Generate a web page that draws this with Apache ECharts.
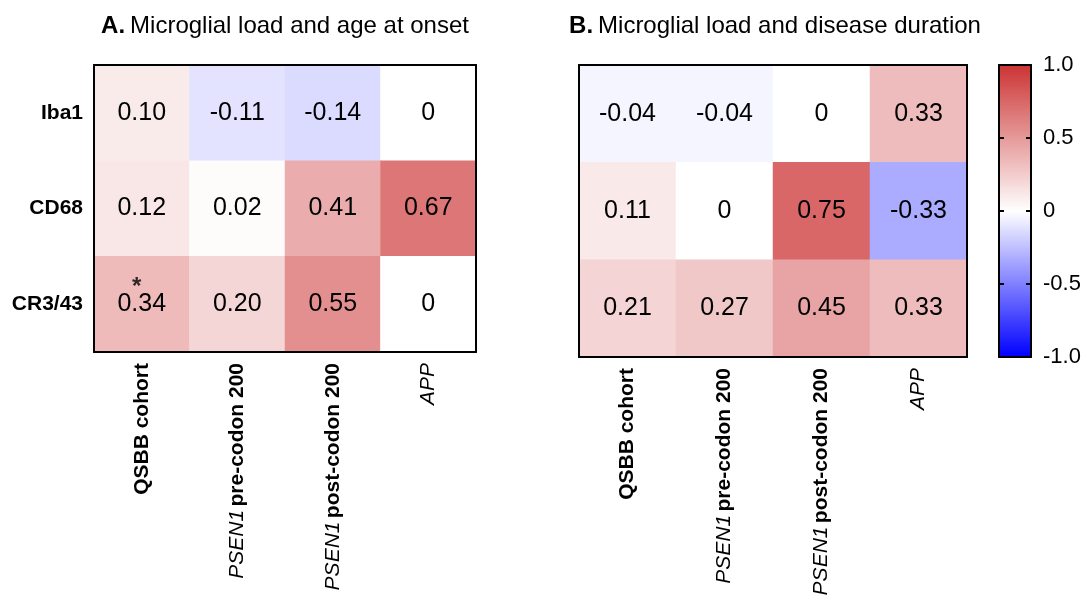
<!DOCTYPE html>
<html>
<head>
<meta charset="utf-8">
<script src="https://cdn.jsdelivr.net/npm/echarts@6/dist/echarts.min.js"></script>
<style>html,body{margin:0;padding:0;background:#fff}#c{width:1092px;height:599px}</style>
</head>
<body>
<div id="c"></div>
<script>
const columns = ['QSBB cohort', 'PSEN1 pre-codon 200', 'PSEN1 post-codon 200', 'APP'];
const markers = ['Iba1', 'CD68', 'CR3/43'];
// A. age at onset
const onsetIba1 = [0.10, -0.11, -0.14, 0];
const onsetCD68 = [0.12, 0.02, 0.41, 0.67];
const onsetCR343 = [0.34, 0.20, 0.55, 0];
// B. disease duration
const durationIba1 = [-0.04, -0.04, 0, 0.33];
const durationCD68 = [0.11, 0, 0.75, -0.33];
const durationCR343 = [0.21, 0.27, 0.45, 0.33];
// significance markers [column, row]
const onsetStars = [[0, 2]];
const colorTicks = [-1, -0.5, 0, 0.5, 1];

const FONT = 'Liberation Sans, Arial, sans-serif';
function cells(rows) {
  const out = [];
  rows.forEach((r, yi) => r.forEach((v, xi) => out.push([xi, yi, v])));
  return out;
}
const onsetData = cells([onsetIba1, onsetCD68, onsetCR343]);
const durationData = cells([durationIba1, durationCD68, durationCR343]);

function xLabelFmt(v) {
  if (v.indexOf('PSEN1 ') === 0) return '{i|PSEN1} {b|' + v.slice(6) + '}';
  if (v === 'APP') return '{i|APP}';
  return '{b|' + v + '}';
}
const richX = {
  b: {fontFamily: FONT, fontSize: 21, fontWeight: 'bold', color: '#000'},
  i: {fontFamily: FONT, fontSize: 21, fontStyle: 'italic', fontWeight: 'normal', color: '#000'}
};
const lineStyle = {color: '#000', width: 2};
const barLine = {show: true, onZero: false, lineStyle};

function heatAxes(gi, showY) {
  return {
    x: [
      {type: 'category', gridIndex: gi, data: columns, position: 'bottom', z: 10,
        axisLine: {show: true, lineStyle}, axisTick: {show: false}, splitLine: {show: false},
        axisLabel: {rotate: 90, margin: 11, interval: 0, formatter: xLabelFmt, rich: richX}},
      {type: 'category', gridIndex: gi, data: columns, position: 'top', z: 10,
        axisLine: {show: true, lineStyle}, axisTick: {show: false}, axisLabel: {show: false}}
    ],
    y: [
      {type: 'category', gridIndex: gi, data: markers, inverse: true, position: 'left', z: 10,
        axisLine: {show: true, lineStyle}, axisTick: {show: false},
        axisLabel: {show: showY, margin: 11, fontFamily: FONT, fontSize: 21, fontWeight: 'bold', color: '#000'}},
      {type: 'category', gridIndex: gi, data: markers, inverse: true, position: 'right', z: 10,
        axisLine: {show: true, lineStyle}, axisTick: {show: false}, axisLabel: {show: false}}
    ]
  };
}
const aA = heatAxes(0, true);
const aB = heatAxes(1, false);

const cellLabel = {
  show: true, fontFamily: FONT, fontSize: 25, color: '#000',
  formatter: p => (p.value[2] === 0 ? '0' : p.value[2].toFixed(2))
};
const titleRich = {
  b: {fontFamily: FONT, fontSize: 24, fontWeight: 'bold', color: '#000'},
  n: {fontFamily: FONT, fontSize: 24, fontWeight: 'normal', color: '#000'}
};

const option = {
  backgroundColor: '#fff',
  animation: false,
  title: [
    {text: '{b|A.} {n|Microglial load and age at onset}', left: 280, top: 9, textAlign: 'center',
      textStyle: {fontWeight: 'normal', rich: titleRich}},
    {text: '{b|B.} {n|Microglial load and disease duration}', left: 770, top: 9, textAlign: 'center',
      textStyle: {fontWeight: 'normal', rich: titleRich}}
  ],
  grid: [
    {left: 94, top: 65, width: 382, height: 287},
    {left: 579, top: 65, width: 388, height: 292},
    {left: 999, top: 65, width: 32, height: 292}
  ],
  xAxis: [
    aA.x[0], aA.x[1], aB.x[0], aB.x[1],
    {type: 'value', gridIndex: 2, min: 0, max: 1, position: 'bottom', z: 10,
      axisLine: barLine, axisTick: {show: false}, axisLabel: {show: false}, splitLine: {show: false}},
    {type: 'value', gridIndex: 2, min: 0, max: 1, position: 'top', z: 10,
      axisLine: barLine, axisTick: {show: false}, axisLabel: {show: false}, splitLine: {show: false}}
  ],
  yAxis: [
    aA.y[0], aA.y[1], aB.y[0], aB.y[1],
    {type: 'value', gridIndex: 2, min: -1, max: 1, interval: 0.5, position: 'right', z: 10,
      axisLine: barLine, splitLine: {show: false},
      axisTick: {show: true, inside: true, length: 5, lineStyle},
      axisLabel: {margin: 12, fontFamily: FONT, fontSize: 22, color: '#000',
        formatter: v => (v === 0 ? '0' : v.toFixed(1))}},
    {type: 'value', gridIndex: 2, min: -1, max: 1, interval: 0.5, position: 'left', z: 10,
      axisLine: barLine, splitLine: {show: false},
      axisTick: {show: true, inside: true, length: 5, lineStyle}, axisLabel: {show: false}}
  ],
  visualMap: {
    type: 'continuous', min: -1, max: 1, seriesIndex: [0, 1], calculable: false, z: 1,
    orient: 'vertical', left: 999, top: 65, padding: 0, itemWidth: 32, itemHeight: 292,
    text: null, showLabel: false, hoverLink: false,
    inRange: {color: ['#0000ff', '#ffffff', '#cc3434']}
  },
  series: [
    {type: 'heatmap', xAxisIndex: 0, yAxisIndex: 0, data: onsetData, label: cellLabel,
      itemStyle: {borderWidth: 0}, emphasis: {disabled: true}},
    {type: 'heatmap', xAxisIndex: 2, yAxisIndex: 2, data: durationData, label: cellLabel,
      itemStyle: {borderWidth: 0}, emphasis: {disabled: true}},
    {type: 'scatter', xAxisIndex: 0, yAxisIndex: 0, data: onsetStars, symbolSize: 0, z: 5,
      label: {show: true, position: 'inside', formatter: '*', offset: [-5, -17],
        fontFamily: FONT, fontSize: 24, fontWeight: 'bold', color: '#000'}}
  ]
};
const chart = echarts.init(document.getElementById('c'), null, {renderer: 'canvas'});
chart.setOption(option);
</script>
</body>
</html>
